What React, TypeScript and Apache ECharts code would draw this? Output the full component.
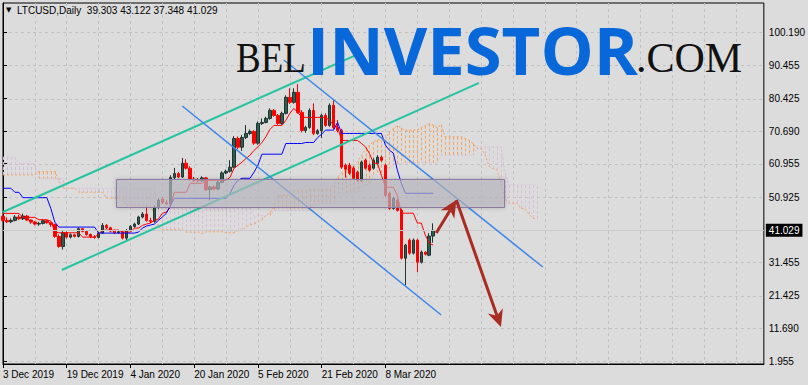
import React, { useEffect, useRef } from "react";
import * as echarts from "echarts";

const header = "LTCUSD,Daily  39.303 43.122 37.348 41.029";
const tickLabels = ["3 Dec 2019", "19 Dec 2019", "4 Jan 2020", "20 Jan 2020", "5 Feb 2020", "21 Feb 2020", "8 Mar 2020"];
const priceTicks = [1.955, 11.69, 21.425, 31.455, 41.19, 50.925, 60.955, 70.69, 80.425, 90.455, 100.19];
const priceLabels = [1.955, 11.69, 21.425, 31.455, 50.925, 60.955, 70.69, 80.425, 90.455, 100.19];
const lastPrice = 41.029;
const totalSlots = 192;

// [open, close, low, high]
const candles = [
  [45.2, 44.0, 43.5, 45.8], [44.0, 43.6, 43.2, 44.9], [43.6, 44.0, 43.2, 44.6], [44.0, 45.0, 43.7, 45.6],
  [45.0, 44.5, 44.1, 45.7], [44.5, 45.3, 44.1, 46.0], [45.3, 44.1, 43.8, 45.6], [44.1, 43.5, 43.0, 44.3],
  [43.5, 42.9, 42.5, 43.8], [42.9, 43.1, 42.4, 43.6], [43.1, 43.9, 42.8, 44.4], [43.9, 43.3, 43.0, 44.2],
  [43.3, 42.8, 42.1, 43.6], [42.8, 39.2, 38.8, 43.0], [39.2, 36.2, 35.8, 39.8], [36.2, 40.3, 35.3, 40.8],
  [40.3, 39.0, 38.6, 40.7], [39.0, 39.7, 38.6, 40.1], [39.7, 39.2, 38.9, 40.0], [39.2, 41.5, 38.9, 41.9],
  [41.5, 40.7, 40.4, 41.8], [40.7, 39.8, 39.4, 41.0], [39.8, 39.1, 38.7, 40.1], [39.1, 38.9, 38.5, 39.6],
  [38.9, 40.2, 38.6, 40.6], [40.2, 42.5, 40.0, 43.2], [42.5, 41.8, 41.4, 42.9], [41.8, 40.8, 40.4, 42.1],
  [40.8, 40.3, 39.9, 41.2], [40.3, 40.6, 40.0, 41.0], [40.6, 38.7, 38.3, 41.0], [38.7, 41.0, 37.9, 41.4],
  [41.0, 42.2, 40.7, 42.6], [42.2, 42.9, 41.8, 43.3], [42.9, 45.0, 42.6, 45.4], [45.0, 45.9, 44.6, 46.5],
  [45.9, 44.0, 43.6, 48.3], [44.0, 43.7, 43.2, 44.8], [43.7, 47.9, 43.3, 48.4], [47.9, 50.0, 47.5, 50.6],
  [50.4, 49.3, 48.9, 51.0], [49.3, 49.0, 48.6, 50.2], [49.0, 56.8, 48.7, 57.5], [56.8, 58.0, 56.3, 59.7],
  [58.0, 57.0, 56.6, 58.5], [57.0, 61.1, 56.7, 62.7], [61.1, 59.6, 59.2, 62.3], [59.6, 56.3, 55.9, 60.2],
  [56.3, 56.0, 55.5, 57.0], [56.0, 55.9, 55.4, 56.7], [55.9, 56.7, 55.5, 57.2], [56.7, 53.2, 52.8, 57.0],
  [53.2, 54.0, 50.0, 54.4], [54.0, 53.4, 53.0, 54.5], [53.4, 55.4, 53.0, 55.9], [55.4, 58.2, 55.1, 58.7],
  [58.2, 58.7, 57.8, 59.2], [58.7, 59.9, 58.3, 62.0], [59.9, 68.5, 59.6, 69.2], [68.5, 65.9, 65.3, 69.1],
  [65.9, 68.8, 64.8, 69.5], [68.8, 70.0, 68.3, 72.5], [70.0, 70.6, 69.5, 71.2], [70.6, 67.1, 66.6, 71.0],
  [67.1, 73.0, 66.6, 73.6], [73.0, 73.3, 72.5, 74.5], [73.3, 74.5, 73.0, 75.0], [74.5, 76.9, 74.1, 77.5],
  [76.9, 75.4, 75.0, 77.3], [75.4, 73.0, 72.6, 75.8], [73.0, 76.0, 72.6, 76.5], [76.0, 80.8, 75.7, 81.4],
  [80.8, 79.3, 78.8, 83.5], [79.3, 82.3, 78.9, 83.5], [82.3, 76.3, 75.9, 84.8], [76.3, 70.9, 70.3, 77.0],
  [70.9, 71.8, 70.2, 72.3], [71.8, 76.9, 71.4, 77.5], [76.9, 70.0, 69.5, 79.0], [70.0, 70.8, 69.6, 71.3],
  [70.8, 75.4, 68.6, 75.9], [75.4, 72.4, 72.0, 76.0], [72.4, 78.4, 72.0, 79.0], [78.4, 71.8, 71.3, 80.0],
  [71.8, 70.9, 70.3, 74.0], [70.9, 59.9, 59.4, 71.4], [60.5, 59.3, 56.8, 61.0], [60.5, 58.1, 57.6, 61.2],
  [59.6, 56.6, 56.2, 60.2], [58.4, 56.0, 55.6, 58.9], [56.0, 61.4, 55.6, 61.9], [62.0, 59.6, 59.2, 62.5],
  [60.5, 59.0, 58.6, 61.0], [59.6, 62.0, 59.2, 62.6], [61.0, 62.9, 60.6, 63.5], [62.9, 62.0, 61.5, 63.4],
  [60.5, 51.5, 51.0, 61.0], [52.1, 47.6, 47.2, 52.6], [47.6, 50.6, 47.2, 51.1], [50.0, 47.0, 46.6, 50.5],
  [47.0, 32.7, 32.3, 47.5], [32.7, 36.6, 24.6, 37.0], [38.1, 34.2, 33.7, 38.6], [34.2, 38.1, 33.8, 38.6],
  [38.1, 31.5, 28.5, 38.5], [31.5, 34.5, 31.1, 35.0], [34.5, 33.9, 33.5, 34.8], [33.6, 39.3, 33.3, 40.2],
  [39.303, 41.029, 37.348, 43.122],
];

const tenkan = [
  46.1, 46.1, 46.1, 46.1, 46.1, 44.9, 44.9, 44.9, 44.9, 44.2, 44.2, 44.2, 43.8, 40.6, 40.3, 40.3,
  40.3, 40.3, 40.3, 40.3, 39.0, 39.0, 39.0, 39.0, 39.9, 41.1, 41.1, 41.1, 41.1, 41.1, 40.5, 40.5,
  40.5, 41.7, 41.7, 42.5, 42.9, 43.2, 44.0, 44.4, 46.1, 46.5, 47.9, 52.4, 52.4, 52.4, 52.4, 55.1,
  55.1, 55.1, 55.1, 56.0, 56.0, 56.0, 56.0, 56.0, 56.0, 56.9, 59.6, 60.5, 61.4, 62.5, 63.5, 64.9,
  66.0, 67.3, 69.0, 71.2, 72.4, 72.4, 72.4, 73.9, 76.0, 77.5, 76.3, 74.8, 74.8, 74.8, 74.8, 74.8,
  74.8, 74.8, 73.9, 72.4, 72.0, 67.9, 67.9, 67.9, 67.9, 67.9, 67.0, 66.0, 64.0, 61.1, 61.1, 57.5,
  53.9, 53.9, 53.9, 51.5, 46.15, 46.15, 46.15, 46.15, 43.2, 43.2, 39.6, 37.2, 36.6,
];

const kijun = [
  53.6, 53.6, 53.6, 52.4, 52.4, 50.8, 50.8, 50.8, 50.8, 50.8, 50.8, 50.8, 47.6, 43.5, 42.0, 42.0,
  42.0, 42.0, 42.0, 42.0, 42.0, 42.0, 42.0, 42.0, 40.2, 40.2, 40.2, 40.2, 40.2, 40.2, 40.2, 40.2,
  40.2, 40.2, 40.5, 41.7, 42.3, 42.6, 42.9, 44.0, 45.0, 46.1, 48.5, 50.6, 50.6, 50.6, 50.6, 50.6,
  50.6, 50.6, 50.6, 50.6, 50.6, 50.6, 50.6, 50.6, 50.6, 52.1, 54.5, 56.0, 56.6, 56.6, 56.6, 58.4,
  60.5, 63.8, 63.8, 63.8, 63.8, 63.8, 63.8, 67.0, 67.0, 67.0, 67.0, 67.0, 67.3, 67.3, 67.3, 68.8,
  69.8, 71.0, 71.0, 71.0, 73.3, 70.0, 70.0, 70.0, 70.0, 70.0, 70.0, 70.0, 70.0, 70.0, 70.0, 70.0,
  66.5, 65.0, 64.1, 59.0, 55.1, 52.1, 52.1, 52.1, 52.1, 52.1, 52.1, 52.1, 52.1,
];

const spanA = [
  57.6, 57.6, 57.6, 57.6, 57.6, 57.6, 57.6, 57.6, 57.6, 58.6, 58.6, 58.6, 58.6, 58.6, 56.0, 53.6,
  53.6, 53.6, 53.6, 52.4, 52.4, 52.4, 52.4, 52.4, 52.4, 52.4, 50.6, 50.6, 50.6, 50.6, 50.6, 48.5,
  48.5, 48.5, 48.5, 48.5, 48.5, 48.5, 45.7, 42.0, 41.2, 41.2, 41.2, 41.2, 41.2, 41.2, 40.5, 40.5,
  40.5, 40.5, 40.0, 40.6, 40.6, 40.6, 40.6, 40.6, 40.3, 40.3, 40.3, 41.0, 41.1, 42.1, 42.6, 42.9,
  43.5, 44.2, 45.5, 46.3, 48.2, 51.5, 51.5, 51.5, 51.5, 52.9, 52.9, 52.9, 52.9, 53.3, 53.3, 53.3,
  53.3, 53.3, 53.3, 54.5, 57.0, 58.3, 59.0, 59.5, 60.1, 61.7, 63.3, 65.5, 66.4, 67.5, 68.1, 68.1,
  68.1, 70.5, 71.5, 72.3, 71.6, 70.9, 71.0, 71.0, 71.0, 71.8, 72.3, 72.9, 72.5, 71.7, 72.7, 69.0,
  69.0, 69.0, 69.0, 69.0, 68.5, 68.0, 67.0, 65.5, 65.5, 63.8, 60.2, 59.5, 59.0, 55.3, 50.6, 49.1,
  49.1, 49.1, 47.6, 47.6, 45.9, 44.7, 44.4,
];

const spanB = [
  62.9, 62.9, 62.9, 62.9, 61.0, 61.0, 61.0, 61.0, 61.0, 56.5, 56.5, 56.5, 56.5, 56.5, 56.5, 56.5,
  53.6, 53.6, 53.6, 53.6, 53.6, 53.6, 53.6, 53.6, 53.6, 53.6, 53.6, 53.6, 53.6, 53.6, 53.6, 53.6,
  53.6, 53.6, 53.6, 53.6, 53.6, 53.6, 53.6, 47.6, 47.6, 47.6, 47.6, 47.6, 47.6, 47.6, 47.6, 47.6,
  47.6, 47.6, 47.6, 47.6, 47.6, 47.6, 47.6, 47.6, 47.6, 47.6, 47.6, 47.6, 47.6, 47.6, 47.6, 45.5,
  45.5, 45.5, 45.5, 45.5, 47.0, 47.0, 47.0, 47.0, 47.0, 47.0, 47.0, 47.0, 47.0, 47.0, 49.0, 49.0,
  49.0, 49.0, 49.0, 49.0, 52.3, 52.3, 52.3, 52.3, 52.3, 52.3, 54.5, 54.5, 54.5, 57.7, 57.7, 57.7,
  57.7, 59.7, 60.7, 60.7, 61.2, 61.2, 61.2, 61.2, 61.2, 61.2, 61.2, 61.2, 61.2, 61.2, 63.5, 63.5,
  63.5, 63.5, 63.5, 63.5, 63.5, 63.5, 63.5, 66.0, 66.0, 66.0, 66.0, 66.0, 66.0, 66.0, 58.4, 54.6,
  54.6, 54.6, 54.6, 54.6, 54.6, 54.6, 54.6,
];

// hand-drawn objects, in [bar, price, bar, price]
const tealChannel = [
  [0, 46.5, 88.75, 93.5],
  [14.75, 29.17, 119.5, 85.1],
];
const blueChannel = [
  [70.5, 91.96, 135.5, 30.06],
  [45, 78.21, 110, 15.71],
];
const zoneBox = [28.25, 56.38, 125.75, 47.92];
const arrows = [
  [108.75, 40.23, 113.8, 50.1],
  [113.8, 50.1, 125, 12.12],
];

const FONT = '"Liberation Sans", Arial, sans-serif';
const GRID_COLOR = "#c2c2c2";

export default function App() {
  const ref = useRef<HTMLDivElement>(null);
  useEffect(() => {
    if (!ref.current) return;
    const chart = echarts.init(ref.current, undefined, { renderer: "svg" });
    const start = Date.UTC(2019, 11, 3);
    const categories = Array.from({ length: totalSlots }, (_, i) => {
      const d = new Date(start + i * 86400000);
      return d.toISOString().slice(0, 10);
    });

    const lineItems = [
      ...tealChannel.map((c) => [...c, 0]),
      ...blueChannel.map((c) => [...c, 1]),
    ];

    const option: any = {
      animation: false,
      backgroundColor: "#dcdcdc",
      grid: { left: 3, top: 3, right: 41, bottom: 21, show: true, borderColor: "#000", borderWidth: 1, backgroundColor: "transparent" },
      xAxis: [
        {
          type: "category",
          data: categories,
          boundaryGap: false,
          position: "bottom",
          axisLine: { show: true, lineStyle: { color: "#000", width: 1 } },
          axisTick: { show: true, length: 4, interval: (i: number) => i % 16 === 0 && i <= 96, lineStyle: { color: "#000" } },
          axisLabel: {
            show: true,
            interval: (i: number) => i % 16 === 0 && i <= 96,
            formatter: (_v: string, i: number) => (i % 16 === 0 && i / 16 < tickLabels.length ? tickLabels[i / 16] : ""),
            align: "left",
            color: "#000",
            fontFamily: FONT,
            fontSize: 10,
            margin: 5,
          },
          splitLine: { show: true, interval: (i: number) => i % 8 === 0 && i > 0, lineStyle: { color: GRID_COLOR, type: [3, 3], width: 1 } },
        },
        { type: "value", min: 0, max: totalSlots - 1, show: false, position: "top" },
      ],
      yAxis: [
        {
          type: "value",
          position: "right",
          min: 1.058,
          max: 109.01,
          axisLine: { show: true, lineStyle: { color: "#000" } },
          axisTick: { show: true, length: 4, customValues: priceTicks, lineStyle: { color: "#000" } },
          axisLabel: {
            show: true,
            customValues: priceLabels,
            formatter: (v: number) => v.toFixed(3),
            color: "#000",
            fontFamily: FONT,
            fontSize: 10,
            margin: 5,
          },
          splitLine: { show: false },
        },
      ],
      graphic: [
        { type: "text", x: 6, y: 6, z: 100, style: { text: "▼", font: '7px "DejaVu Sans"', fill: "#000" } },
        { type: "text", x: 17, y: 5, z: 100, style: { text: header, font: `10px ${FONT}`, fill: "#000" } },
        { type: "text", x: 236, y: 37, z: 50, scaleX: 0.88, style: { text: "BEL", font: '42px "Liberation Serif"', fill: "#111", verticalAlign: "top" } },
        { type: "text", x: 307, y: 15, z: 50, style: { text: "INVESTOR", font: 'bold 67px "Open Sans"', fill: "#0867d9", verticalAlign: "top" } },
        { type: "text", x: 636, y: 37, z: 50, style: { text: ".COM", font: '42px "Liberation Serif"', fill: "#111", verticalAlign: "top" } },
      ],
      series: [
        {
          name: "hgrid",
          type: "custom",
          xAxisIndex: 1,
          yAxisIndex: 0,
          silent: true,
          z: 0,
          data: priceTicks.map((v) => [0, v]),
          renderItem: (params: any, api: any) => {
            const y = Math.round(api.coord([0, api.value(1)])[1]) + 0.5;
            const cs = params.coordSys;
            return { type: "line", shape: { x1: cs.x, y1: y, x2: cs.x + cs.width, y2: y }, style: { stroke: GRID_COLOR, lineWidth: 1, lineDash: [3, 3] } };
          },
        },
        {
          name: "cloud",
          type: "custom",
          xAxisIndex: 1,
          yAxisIndex: 0,
          silent: true,
          z: 1,
          data: spanA.map((a, i) => [i, a, spanB[i]]),
          renderItem: (_p: any, api: any) => {
            const i = api.value(0);
            const a = api.value(1);
            const b = api.value(2);
            const p1 = api.coord([i, a]);
            const p2 = api.coord([i, b]);
            const x = Math.round(p1[0]) + 0.5;
            return { type: "line", shape: { x1: x, y1: p1[1], x2: x, y2: p2[1] }, style: { stroke: a >= b ? "#f4a460" : "#d8bfd8", lineWidth: 1, lineDash: [3, 2] } };
          },
        },
        { name: "Senkou A", type: "line", data: spanA, symbol: "none", z: 1, lineStyle: { color: "#f4a460", width: 1, type: [2, 2] } },
        { name: "Senkou B", type: "line", data: spanB, symbol: "none", z: 1, lineStyle: { color: "#d8bfd8", width: 1, type: [2, 2] } },
        {
          name: "LTCUSD",
          type: "candlestick",
          data: candles,
          barWidth: 3,
          z: 3,
          itemStyle: { color: "#2f5d50", color0: "#ff0000", borderColor: "#1e3530", borderColor0: "#ff0000", borderWidth: 1 },
          markLine: {
            silent: true,
            symbol: ["none", "none"],
            data: [{ yAxis: lastPrice }],
            lineStyle: { color: "#cacaca", width: 1, type: "solid" },
            label: { show: true, position: "end", formatter: lastPrice.toFixed(3), color: "#fff", backgroundColor: "#000", padding: [2, 3, 1, 3], fontSize: 10, fontFamily: FONT, distance: 2 },
          },
        },
        { name: "Tenkan", type: "line", data: tenkan, symbol: "none", z: 4, lineStyle: { color: "#ff0000", width: 1 } },
        { name: "Kijun", type: "line", data: kijun, symbol: "none", z: 4, lineStyle: { color: "#0000ff", width: 1 } },
        {
          name: "channels",
          type: "custom",
          xAxisIndex: 1,
          yAxisIndex: 0,
          silent: true,
          z: 5,
          data: lineItems,
          renderItem: (_p: any, api: any) => {
            const p1 = api.coord([api.value(0), api.value(1)]);
            const p2 = api.coord([api.value(2), api.value(3)]);
            const teal = api.value(4) === 0;
            return { type: "line", shape: { x1: p1[0], y1: p1[1], x2: p2[0], y2: p2[1] }, style: { stroke: teal ? "#26c4a0" : "#3d85e8", lineWidth: teal ? 2 : 1.5 } };
          },
        },
        {
          name: "zone",
          type: "custom",
          xAxisIndex: 1,
          yAxisIndex: 0,
          silent: true,
          z: 6,
          data: [zoneBox],
          renderItem: (_p: any, api: any) => {
            const p1 = api.coord([api.value(0), api.value(1)]);
            const p2 = api.coord([api.value(2), api.value(3)]);
            return {
              type: "rect",
              shape: { x: Math.round(p1[0]) + 0.5, y: Math.round(p1[1]) + 0.5, width: Math.round(p2[0] - p1[0]), height: Math.round(p2[1] - p1[1]) },
              style: { fill: "rgba(186,186,194,0.64)", stroke: "#8c7aa2", lineWidth: 1, shadowBlur: 4, shadowColor: "rgba(0,0,0,0.25)" },
            };
          },
        },
        {
          name: "arrows",
          type: "custom",
          xAxisIndex: 1,
          yAxisIndex: 0,
          silent: true,
          z: 7,
          data: arrows,
          renderItem: (_p: any, api: any) => {
            const p1 = api.coord([api.value(0), api.value(1)]);
            const p2 = api.coord([api.value(2), api.value(3)]);
            const dx = p2[0] - p1[0];
            const dy = p2[1] - p1[1];
            const len = Math.hypot(dx, dy);
            const ux = dx / len;
            const uy = dy / len;
            const hl = 17;
            const hw = 8;
            const bx = p2[0] - ux * hl;
            const by = p2[1] - uy * hl;
            const nx = p2[0] - ux * hl * 0.7;
            const ny = p2[1] - uy * hl * 0.7;
            const color = "#a92c22";
            return {
              type: "group",
              children: [
                { type: "line", shape: { x1: p1[0], y1: p1[1], x2: nx, y2: ny }, style: { stroke: color, lineWidth: 3 } },
                { type: "polygon", shape: { points: [[p2[0], p2[1]], [bx - uy * hw, by + ux * hw], [nx, ny], [bx + uy * hw, by - ux * hw]] }, style: { fill: color } },
              ],
            };
          },
        },
      ],
    };
    chart.setOption(option);
    return () => chart.dispose();
  }, []);
  return <div ref={ref} style={{ position: "fixed", left: 0, top: 0, width: 808, height: 385, background: "#dcdcdc" }} />;
}
